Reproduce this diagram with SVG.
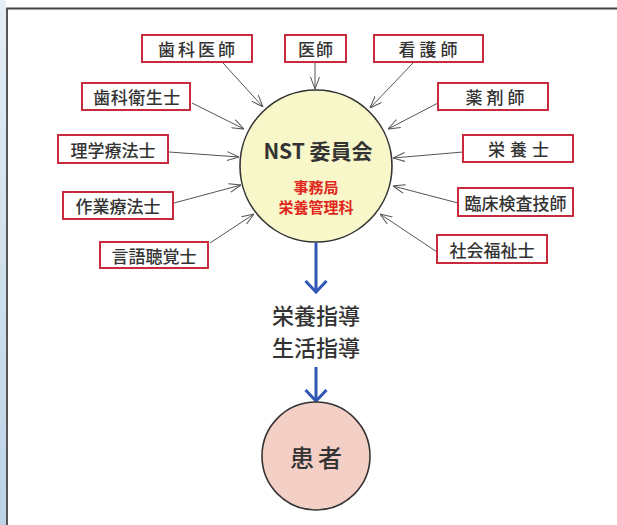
<svg xmlns="http://www.w3.org/2000/svg" width="617" height="525" viewBox="0 0 617 525">
  <defs>
    <style>
      .box { fill: #ffffff; stroke: #c62a3c; stroke-width: 2; }
      .lbl { font-family: "Noto Sans CJK JP", "Noto Sans", sans-serif; font-size: 17px; font-weight: 500; fill: #333333; text-anchor: middle; dominant-baseline: central; }
      .conn { stroke: #555555; stroke-width: 1; fill: none; marker-end: url(#open); }
      .flow { stroke: #2f55b5; stroke-width: 3; fill: none; marker-end: url(#blue); }
      .big { font-family: "Noto Sans CJK JP", "Noto Sans", sans-serif; font-weight: 500; fill: #333333; text-anchor: middle; dominant-baseline: central; }
      .bold { font-weight: bold; }
      .red { fill: #e0281e; font-weight: bold; }
    </style>
    <marker id="open" viewBox="0 0 12 10" refX="12" refY="5" markerWidth="12" markerHeight="10" markerUnits="userSpaceOnUse" orient="auto">
      <path d="M0,0.5 L12,5 L0,9.5" fill="none" stroke="#555555" stroke-width="1"/>
    </marker>
    <marker id="blue" viewBox="0 0 14 24" refX="12" refY="12" markerWidth="14" markerHeight="24" markerUnits="userSpaceOnUse" orient="auto">
      <path d="M1,1.5 L12,12 L1,22.5" fill="none" stroke="#2f55b5" stroke-width="3"/>
    </marker>
    <linearGradient id="side" x1="0" y1="0" x2="0" y2="1">
      <stop offset="0" stop-color="#e4eef5"/>
      <stop offset="1" stop-color="#bcd3e6"/>
    </linearGradient>
  </defs>

  <rect x="0" y="0" width="617" height="525" fill="#ffffff"/>
  <rect x="0" y="0" width="6" height="525" fill="url(#side)"/>
  <path d="M7,525 L7,8.5 L617,8.5" fill="none" stroke="#444444" stroke-width="1.8"/>

  <g id="connectors">
    <line class="conn" x1="223" y1="63" x2="263" y2="107"/>
    <line class="conn" x1="315" y1="62" x2="315" y2="89"/>
    <line class="conn" x1="413" y1="63" x2="370" y2="108"/>
    <line class="conn" x1="192" y1="103" x2="244" y2="129"/>
    <line class="conn" x1="438" y1="103" x2="388" y2="129"/>
    <line class="conn" x1="169" y1="152" x2="239" y2="157"/>
    <line class="conn" x1="463" y1="152" x2="393" y2="158"/>
    <line class="conn" x1="174" y1="203" x2="241" y2="185"/>
    <line class="conn" x1="458" y1="203" x2="393" y2="186"/>
    <line class="conn" x1="210" y1="243" x2="254" y2="214"/>
    <line class="conn" x1="437" y1="252" x2="380" y2="214"/>
    <line class="flow" x1="316" y1="243" x2="316" y2="292"/>
    <line class="flow" x1="316" y1="367" x2="316" y2="401"/>
  </g>

  <g id="nst">
    <circle cx="316" cy="166" r="76" fill="#f8f7c9" stroke="#333333" stroke-width="1.6"/>
    <text class="big bold" x="318" y="150" font-size="21">NST 委員会</text>
    <text class="big red" x="316" y="186" font-size="15">事務局</text>
    <text class="big red" x="316" y="206" font-size="15">栄養管理科</text>
  </g>

  <g id="n-shika-ishi">
    <rect class="box" x="142" y="35" width="110" height="27"/>
    <text class="lbl" x="198" y="48.5" letter-spacing="3">歯科医師</text>
  </g>
  <g id="n-ishi">
    <rect class="box" x="285" y="35" width="61" height="27"/>
    <text class="lbl" x="316" y="48.5" letter-spacing="1">医師</text>
  </g>
  <g id="n-kangoshi">
    <rect class="box" x="374" y="35" width="109" height="27"/>
    <text class="lbl" x="430" y="48.5" letter-spacing="4">看護師</text>
  </g>
  <g id="n-shika-eisei">
    <rect class="box" x="82" y="83" width="108" height="27"/>
    <text class="lbl" x="137" y="96.5" letter-spacing="0.5">歯科衛生士</text>
  </g>
  <g id="n-yakuzaishi">
    <rect class="box" x="438" y="83" width="110" height="27"/>
    <text class="lbl" x="497" y="96.5" letter-spacing="4">薬剤師</text>
  </g>
  <g id="n-rigaku">
    <rect class="box" x="58" y="135" width="110" height="28"/>
    <text class="lbl" x="113" y="149">理学療法士</text>
  </g>
  <g id="n-eiyoshi">
    <rect class="box" x="463" y="135" width="110" height="27"/>
    <text class="lbl" x="521" y="148.5" letter-spacing="5">栄養士</text>
  </g>
  <g id="n-sagyo">
    <rect class="box" x="63" y="192" width="110" height="27"/>
    <text class="lbl" x="118" y="205.5">作業療法士</text>
  </g>
  <g id="n-rinsho">
    <rect class="box" x="458" y="188" width="115" height="28"/>
    <text class="lbl" x="515.5" y="202">臨床検査技師</text>
  </g>
  <g id="n-gengo">
    <rect class="box" x="100" y="242" width="108" height="26"/>
    <text class="lbl" x="154" y="255">言語聴覚士</text>
  </g>
  <g id="n-shakai">
    <rect class="box" x="437" y="235" width="110" height="28"/>
    <text class="lbl" x="492" y="249">社会福祉士</text>
  </g>

  <g id="guidance">
    <text class="big" x="316" y="314" font-size="22">栄養指導</text>
    <text class="big" x="316" y="346" font-size="22">生活指導</text>
  </g>

  <g id="patient">
    <circle cx="316" cy="456" r="54" fill="#f3cfc6" stroke="#333333" stroke-width="1.6"/>
    <text class="big" x="318" y="456" font-size="24" letter-spacing="4">患者</text>
  </g>
</svg>
